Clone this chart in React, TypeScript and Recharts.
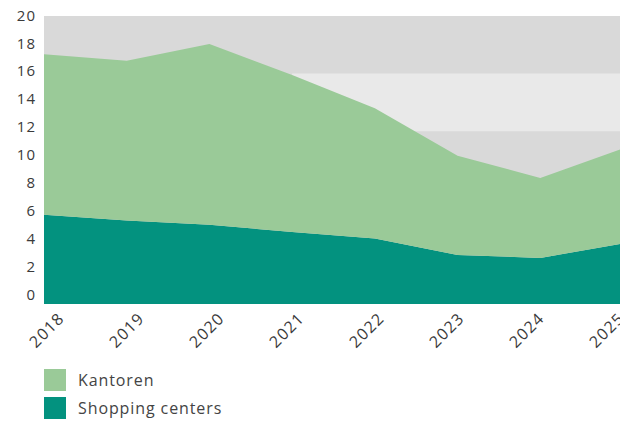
import { AreaChart, Area, XAxis, YAxis, CartesianGrid, ReferenceArea } from 'recharts';

const years = ['2018', '2019', '2020', '2021', '2022', '2023', '2024', '2025'];
// stacked: shopping centers at the bottom, offices on top
const shoppingCenters = [6.2, 5.8, 5.5, 5.0, 4.55, 3.4, 3.2, 4.2];
const kantoren = [11.15, 11.1, 12.55, 10.9, 9.05, 6.9, 5.55, 6.6];
const yTicks = [0, 2, 4, 6, 8, 10, 12, 14, 16, 18, 20];

const KANTOREN_COLOR = '#9aca98';
const SHOPPING_COLOR = '#03927f';
const FONT = '"Open Sans", Lato, sans-serif';

const data = years.map((year, i) => ({
  year,
  shopping: shoppingCenters[i],
  kantoren: kantoren[i],
}));

const YTick = ({ y, payload }: any) => {
  // labels in the original sit on a slightly squeezed scale
  const cy = 294.3 - (304 - y) * 0.969;
  return (
    <text x={36} y={cy} dy="0.36em" textAnchor="end" fill="#3a3a3a" fontSize={15} letterSpacing={1} fontFamily={FONT}>
      {payload.value}
    </text>
  );
};

const XTick = ({ x, payload }: any) => {
  const ex = 62 + (x - 44) * 0.967;
  const ey = 316;
  return (
    <text
      x={ex}
      y={ey}
      dy="0.3em"
      textAnchor="end"
      fill="#3a3a3a"
      fontSize={16}
      letterSpacing={1.2}
      fontFamily={FONT}
      transform={`rotate(-45, ${ex}, ${ey})`}
    >
      {payload.value}
    </text>
  );
};

const legendItems = [
  { label: 'Kantoren', color: KANTOREN_COLOR },
  { label: 'Shopping centers', color: SHOPPING_COLOR },
];

export default function App() {
  return (
    <div style={{ position: 'absolute', left: 0, top: 0, width: 620, height: 423, overflow: 'hidden', background: '#fff' }}>
      <AreaChart width={640} height={360} data={data} margin={{ top: 16, right: 17, bottom: 0, left: 0 }}>
        <CartesianGrid horizontal={false} vertical={false} fill="#d9d9d9" stroke="none" />
        <ReferenceArea x1="2021" x2="2025" y1={12} y2={16} fill="#e9e9e9" fillOpacity={1} stroke="none" zIndex={-50} />
        <XAxis dataKey="year" height={56} axisLine={false} tickLine={false} tick={<XTick />} interval={0} />
        <YAxis width={44} domain={[0, 20]} ticks={yTicks} axisLine={false} tickLine={false} tick={<YTick />} interval={0} />
        <Area type="linear" dataKey="shopping" stackId="a" stroke="none" fill={SHOPPING_COLOR} fillOpacity={1} isAnimationActive={false} />
        <Area type="linear" dataKey="kantoren" stackId="a" stroke="none" fill={KANTOREN_COLOR} fillOpacity={1} isAnimationActive={false} />
      </AreaChart>
      {legendItems.map((item, i) => (
        <div key={item.label} style={{ position: 'absolute', left: 44, top: 369 + i * 28, display: 'flex', alignItems: 'center' }}>
          <div style={{ width: 22, height: 22, background: item.color }} />
          <span style={{ marginLeft: 12, fontFamily: FONT, fontSize: 16, letterSpacing: 0.9, color: '#444' }}>{item.label}</span>
        </div>
      ))}
    </div>
  );
}
